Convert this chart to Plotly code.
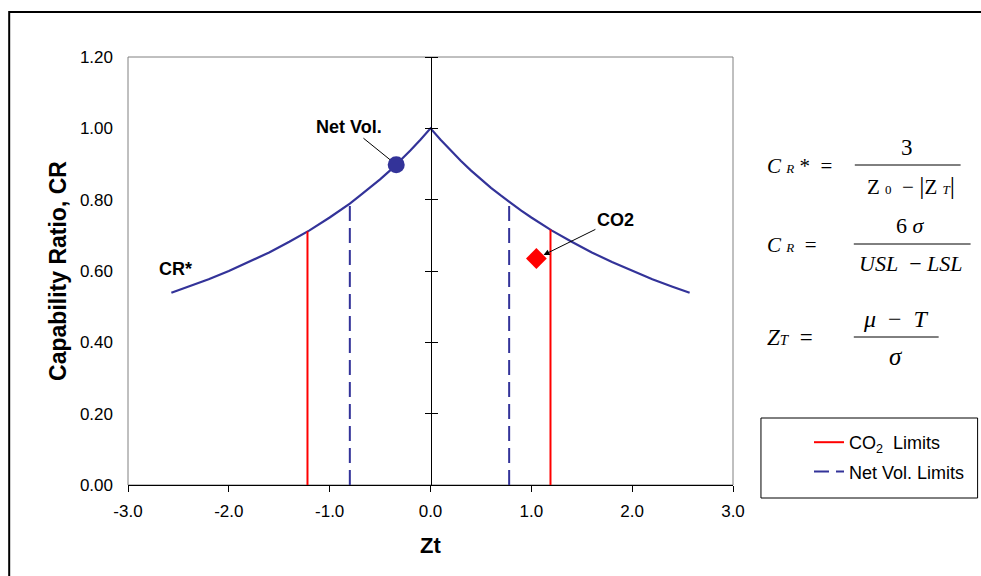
import plotly.graph_objects as go

# ---------------- data ----------------
z_curve = [-2.57, -2.4, -2.2, -2.0, -1.8, -1.6, -1.4, -1.2, -1.0, -0.9, -0.8, -0.7,
           -0.6, -0.5, -0.4, -0.3, -0.2, -0.1, 0.0,
           0.1, 0.2, 0.3, 0.4, 0.5, 0.6, 0.7, 0.8, 0.9, 1.0, 1.2, 1.4, 1.6,
           1.8, 2.0, 2.2, 2.4, 2.57]
cr_curve = [0.539, 0.556, 0.577, 0.600, 0.625, 0.652, 0.682, 0.714, 0.750, 0.769,
            0.789, 0.811, 0.833, 0.857, 0.882, 0.909, 0.938, 0.968, 1.000,
            0.968, 0.938, 0.909, 0.882, 0.857, 0.833, 0.811, 0.789, 0.769, 0.750,
            0.714, 0.682, 0.652, 0.625, 0.600, 0.577, 0.556, 0.539]

co2_limits_z = [-1.22, 1.19]
co2_limits_top = [0.711, 0.716]
netvol_limits_z = [-0.80, 0.78]
netvol_limits_top = [0.789, 0.794]

netvol_point = (-0.34, 0.898)
co2_point = (1.05, 0.635)

x_ticks = [-3.0, -2.0, -1.0, 0.0, 1.0, 2.0, 3.0]
y_ticks = [0.0, 0.2, 0.4, 0.6, 0.8, 1.0, 1.2]
x_ticktext = [f"{v:.1f}" for v in x_ticks]
y_ticktext = [f"{v:.2f}" for v in y_ticks]

# ---------------- geometry helpers ----------------
W, H = 981, 576
L, R, T, B = 128, 734, 57, 485  # plot area pixel box


def px(xp):
    return (xp - L) / (R - L)


def py(yp):
    return (B - yp) / (B - T)


NAVY = "#333399"
RED = "#FF0000"
SANS = "Arial, Liberation Sans, sans-serif"

fig = go.Figure()

fig.add_trace(go.Scatter(x=z_curve, y=cr_curve, mode="lines",
                         line=dict(color=NAVY, width=2.2), showlegend=False,
                         hoverinfo="skip"))


def vlines(zs, tops):
    xs, ys = [], []
    for z, t in zip(zs, tops):
        xs += [z, z, None]
        ys += [0, t, None]
    return xs, ys


xs, ys = vlines(co2_limits_z, co2_limits_top)
fig.add_trace(go.Scatter(x=xs, y=ys, mode="lines", line=dict(color=RED, width=2),
                         name="CO<sub>2</sub>  Limits", legendgroup="a"))
xs, ys = vlines(netvol_limits_z, netvol_limits_top)
fig.add_trace(go.Scatter(x=xs, y=ys, mode="lines",
                         line=dict(color=NAVY, width=2, dash="15px,7px"),
                         name="Net Vol. Limits", legendgroup="b"))

fig.add_trace(go.Scatter(x=[netvol_point[0]], y=[netvol_point[1]], mode="markers",
                         marker=dict(color=NAVY, size=17, symbol="circle"),
                         showlegend=False))
fig.add_trace(go.Scatter(x=[co2_point[0]], y=[co2_point[1]], mode="markers",
                         marker=dict(color=RED, size=16, symbol="diamond"),
                         showlegend=False))

# dummy traces to activate the centre axes
fig.add_trace(go.Scatter(x=[0], y=[0], yaxis="y2", mode="markers",
                         marker=dict(opacity=0), showlegend=False, hoverinfo="skip"))
fig.add_trace(go.Scatter(x=[0], y=[0], yaxis="y3", mode="markers",
                         marker=dict(opacity=0), showlegend=False, hoverinfo="skip"))

font_ax = dict(family=SANS, size=17, color="black")

fig.update_layout(
    width=W, height=H,
    margin=dict(l=L, r=W - R, t=T, b=H - B),
    paper_bgcolor="white", plot_bgcolor="white",
    font=font_ax,
    xaxis=dict(range=[-3, 3], tickvals=x_ticks, ticktext=x_ticktext,
               showgrid=False, zeroline=False, showline=True, linecolor="black",
               linewidth=1, ticks="outside", ticklen=6, tickcolor="black",
               tickfont=font_ax, ticklabelstandoff=5,
               title=dict(text="<b>Zt</b>", font=dict(size=22, color="black",
                          family=SANS), standoff=17)),
    yaxis=dict(range=[0, 1.2], tickvals=y_ticks, ticktext=y_ticktext,
               showgrid=False, zeroline=False, showline=False, ticks="",
               ticklabelstandoff=14, tickfont=font_ax,
               title=dict(text="<b>Capability Ratio, CR</b>",
                          font=dict(size=23, color="black", family=SANS),
                          standoff=6)),
    yaxis2=dict(range=[0, 1.2], tickvals=y_ticks, overlaying="y", anchor="free",
                position=0.5, side="left", showline=True, linecolor="black",
                linewidth=1, ticks="outside", ticklen=6, tickcolor="black",
                showticklabels=False, showgrid=False, zeroline=False),
    yaxis3=dict(range=[0, 1.2], tickvals=y_ticks, overlaying="y", anchor="free",
                position=0.5, side="right", showline=True, linecolor="black",
                linewidth=1, ticks="outside", ticklen=6, tickcolor="black",
                showticklabels=False, showgrid=False, zeroline=False),
    showlegend=True,
    legend=dict(x=px(809), y=py(424), xanchor="left", yanchor="top",
                bgcolor="rgba(0,0,0,0)", borderwidth=0,
                font=dict(size=18, color="black", family=SANS),
                tracegroupgap=3),
)

shapes = []
# plot-area border (grey)
shapes.append(dict(type="rect", xref="paper", yref="paper", x0=0, x1=1, y0=0, y1=1,
                   line=dict(color="#808080", width=1), layer="below"))
# outer chart border
shapes.append(dict(type="rect", xref="paper", yref="paper",
                   x0=px(9), x1=px(1000), y0=py(600), y1=py(12),
                   line=dict(color="black", width=2)))
# legend box
shapes.append(dict(type="rect", xref="paper", yref="paper",
                   x0=px(762), x1=px(979), y0=py(498), y1=py(418),
                   line=dict(color="black", width=1), fillcolor="white", layer="below"))
# fraction bars
for x0, x1, yy in [(856, 962, 165), (855, 972, 244), (855, 940, 337)]:
    shapes.append(dict(type="line", xref="paper", yref="paper",
                       x0=px(x0), x1=px(x1), y0=py(yy), y1=py(yy),
                       line=dict(color="black", width=1)))
fig.update_layout(shapes=shapes)

SERIF = "Times New Roman, Liberation Serif, serif"
ann = []


def eq(text, x, y, size=21, xanchor="center"):
    ann.append(dict(text=text, xref="paper", yref="paper", x=px(x), y=py(y),
                    xanchor=xanchor, yanchor="middle", showarrow=False,
                    font=dict(family=SERIF, size=size, color="black")))


eq("<i>C</i> <i><span style='font-size:13px'>R</span></i> *  =", 766, 166, xanchor="left")
eq("3", 908, 147, size=23)
eq("Z <span style='font-size:13px'>0</span>  − <span style='font-size:26px'>|</span>Z <i><span style='font-size:13px'>T</span></i><span style='font-size:26px'>|</span>", 912, 186)
eq("<i>C</i> <i><span style='font-size:13px'>R</span></i>  =", 766, 245, xanchor="left")
eq("6 <i>σ</i>", 912, 226, size=22)
eq("<i>USL</i>  − <i>LSL</i>", 912, 263, size=22)
eq("<i>Z<span style='font-size:15px'>T</span></i>  =", 766, 337, xanchor="left", size=23)
eq("<i>μ</i>  −  <i>T</i>", 897, 319, size=24)
eq("<i>σ</i>", 897, 356, size=25)

bold = dict(family=SANS, size=18, color="black")
ann.append(dict(text="<b>Net Vol.</b>", x=netvol_point[0], y=netvol_point[1],
                ax=-47, ay=-38, showarrow=True, arrowhead=0, arrowwidth=1,
                arrowcolor="black", standoff=8, font=bold))
ann.append(dict(text="<b>CO2</b>", x=co2_point[0], y=co2_point[1],
                ax=79, ay=-39, showarrow=True, arrowhead=2, arrowsize=1.2,
                arrowwidth=1, arrowcolor="black", standoff=8, font=bold))
ann.append(dict(text="<b>CR*</b>", x=-2.53, y=0.605, showarrow=False, font=bold))
fig.update_layout(annotations=ann)

fig.write_html("out.html")
